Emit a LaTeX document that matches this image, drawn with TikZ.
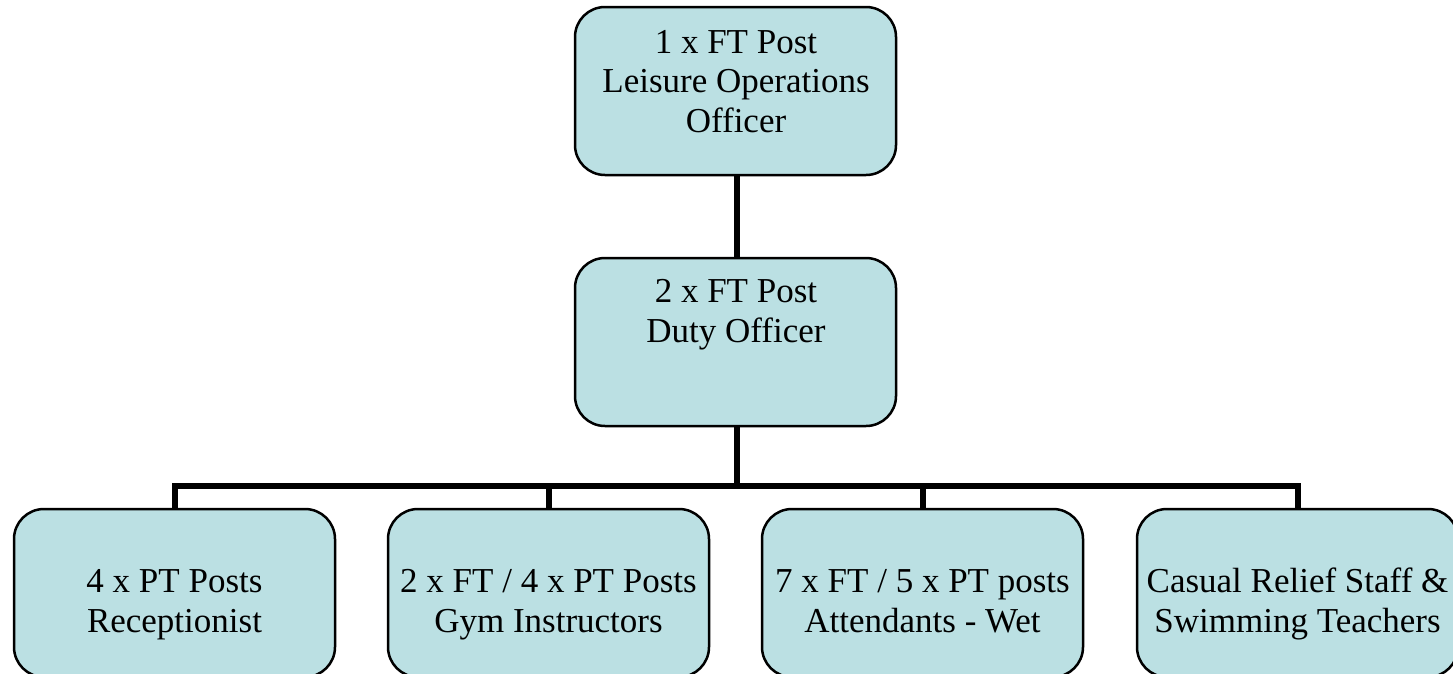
\documentclass[tikz,border=0pt]{standalone}
\usepackage{fontspec}
\setmainfont{Liberation Serif}
\definecolor{boxfill}{HTML}{BBE0E3}
\begin{document}
\begin{tikzpicture}[x=1pt,y=-1pt,
  box/.style={draw=black, line width=2.5pt, fill=boxfill, rounded corners=30pt,
    minimum width=321pt, minimum height=168pt, inner sep=0pt, outer sep=0pt},
  lbl/.style={align=center, anchor=base, inner sep=0pt,
    font=\fontsize{35}{39.5}\selectfont},
  conn/.style={line width=6pt, line join=miter, line cap=butt}]
\useasboundingbox (0,0) rectangle (1453,673);
\node[box] (b0) at (735.5,91) {};
\node[box] (b1) at (735.5,342) {};
\node[box] (c1) at (174.5,593) {};
\node[box] (c2) at (548.5,593) {};
\node[box] (c3) at (922.5,593) {};
\node[box] (c4) at (1297.5,593) {};
\node[lbl] (t0) at (736,132) {1 x FT Post\\Leisure Operations\\Officer};
\node[lbl] (t1) at (736,342) {2 x FT Post\\Duty Officer};
\node[lbl] (u1) at (174.5,632) {4 x PT Posts\\Receptionist};
\node[lbl] (u2) at (548.5,632) {2 x FT / 4 x PT Posts\\Gym Instructors};
\node[lbl] (u3) at (922.5,632) {7 x FT / 5 x PT posts\\Attendants - Wet};
\node[lbl] (u4) at (1297.5,632) {Casual Relief Staff \&\\Swimming Teachers};
\coordinate (bus) at (737,486);
\draw[conn] (b0.south -| bus) -- (b1.north -| bus);
\draw[conn] (b1.south -| bus) -- (bus);
\draw[conn] (c1.north) -- (c1.north |- bus) -- (c4.north |- bus) -- (c4.north);
\draw[conn] (c2.north) -- (c2.north |- bus);
\draw[conn] (c3.north) -- (c3.north |- bus);
\end{tikzpicture}
\end{document}
